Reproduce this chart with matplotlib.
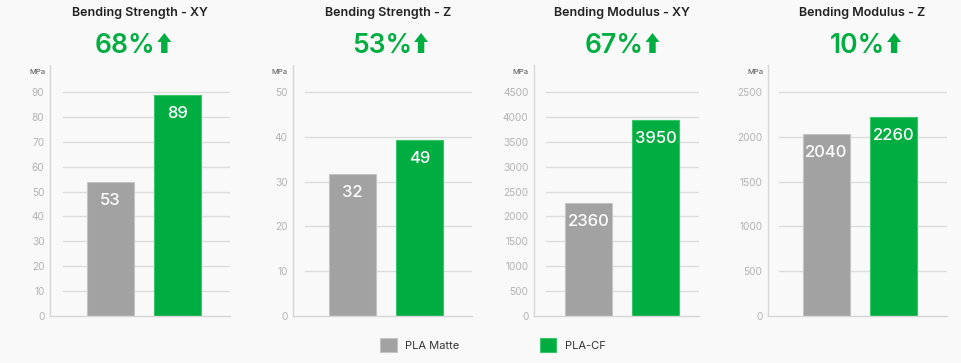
import matplotlib
matplotlib.use("Agg")
import matplotlib.pyplot as plt
from matplotlib.patches import Patch, Polygon
import numpy as np

plt.rcParams['font.family'] = ['Inter', 'DejaVu Sans']

# ---- data ----
titles = ["Bending Strength - XY", "Bending Strength - Z", "Bending Modulus - XY", "Bending Modulus - Z"]
increase = ["68%", "53%", "67%", "10%"]
series = ["PLA Matte", "PLA-CF"]
heights_xy_strength = [53.8, 88.8]
heights_z_strength = [31.7, 39.2]
heights_xy_modulus = [2263, 3930]
heights_z_modulus = [2028, 2224]
labels_xy_strength = ["53", "89"]
labels_z_strength = ["32", "49"]
labels_xy_modulus = ["2360", "3950"]
labels_z_modulus = ["2040", "2260"]
y_max = [90, 50, 4500, 2500]
y_step = [10, 10, 500, 500]
unit = "MPa"

heights = [heights_xy_strength, heights_z_strength, heights_xy_modulus, heights_z_modulus]
labels = [labels_xy_strength, labels_z_strength, labels_xy_modulus, labels_z_modulus]

# ---- style / layout ----
W, H = 962, 363
BG = '#f9f9f9'
GRAY = '#a2a2a2'
GREEN = '#00ad41'
colors = [GRAY, GREEN]
edges = ['#c4c4c4', '#3cc46a']
axis_x = [50, 293, 534, 768]
grid_start = [63, 305, 546, 779]
grid_end = [230, 472, 699, 947]
bar_left = [87, 329, 565, 803]
title_cx = [139.5, 388, 622, 862.5]
pct_cx = [133, 390, 622, 865.5]
bar_w_px = 47
spacing_px = 67
y0_px, ytop_px, yfree_px = 316, 92, 65

fig = plt.figure(figsize=(W / 100, H / 100), dpi=100, facecolor=BG)
renderer = fig.canvas.get_renderer()

for i in range(4):
    ax_h = y0_px - yfree_px
    ax = fig.add_axes([axis_x[i] / W, (H - y0_px) / H, (grid_end[i] - axis_x[i]) / W, ax_h / H])
    ax.set_facecolor('none')
    c0 = bar_left[i] + bar_w_px / 2
    ax.set_xlim((axis_x[i] - c0) / spacing_px, (grid_end[i] - c0) / spacing_px)
    top = y_max[i] * ax_h / (y0_px - ytop_px)
    ax.set_ylim(0, top)
    ticks = np.arange(0, y_max[i] + y_step[i] / 2, y_step[i])
    frac = (grid_start[i] - axis_x[i]) / (grid_end[i] - axis_x[i])
    for t in ticks[1:]:
        ax.axhline(t, xmin=frac, xmax=1, color='#dddddd', lw=1, zorder=0)
    xs = np.arange(len(heights[i]))
    ax.bar(xs, heights[i], width=bar_w_px / spacing_px, color=colors,
           edgecolor=edges, linewidth=0.8, zorder=2)
    for x, h, lab in zip(xs, heights[i], labels[i]):
        ax.annotate(lab, xy=(x, h), xytext=(0, -11), textcoords='offset pixels',
                    ha='center', va='top', color='white', fontsize=12, fontweight='medium', zorder=3)
    ax.set_yticks(ticks)
    ax.set_yticklabels([f"{int(t)}" for t in ticks])
    ax.set_xticks([])
    ax.tick_params(axis='y', length=0, pad=4, labelsize=7.3, labelcolor='#b3b3b3')
    for s in ['top', 'right']:
        ax.spines[s].set_visible(False)
    for s in ['left', 'bottom']:
        ax.spines[s].set_color('#d6d6d6')
        ax.spines[s].set_linewidth(1)
    ax.annotate(unit, xy=(0, 1), xycoords='axes fraction', xytext=(-5, -7),
                textcoords='offset pixels', ha='right', va='center', fontsize=5.5, color='#555555')
    fig.text(title_cx[i] / W, 1 - 13 / H, titles[i], ha='center', va='center', fontsize=9,
             fontweight='semibold', color='#222222')
    # percentage text + up arrow
    arrow_w, arrow_h, gap = 14, 20, 2
    t = fig.text(0, 0, increase[i], fontsize=19, fontweight='semibold', color=GREEN,
                 ha='left', va='baseline')
    bb = t.get_window_extent(renderer)
    tw = bb.width
    total = tw + gap + arrow_w
    left = pct_cx[i] - total / 2
    base_y = H - 53
    t.set_position((left / W, base_y / H))
    ax0 = left + tw + gap
    ax1 = ax0 + arrow_w
    amid = (ax0 + ax1) / 2
    head_base = base_y + arrow_h - 9
    stem = 3.2
    pts = [(amid - stem, base_y), (amid + stem, base_y), (amid + stem, head_base),
           (ax1, head_base), (amid, base_y + arrow_h), (ax0, head_base), (amid - stem, head_base)]
    fig.patches.append(Polygon([(px / W, py / H) for px, py in pts], closed=True,
                               transform=fig.transFigure, facecolor=GREEN, edgecolor='none'))

handles = [Patch(facecolor=c, edgecolor=e, linewidth=0.8) for c, e in zip(colors, edges)]
fig.legend(handles, series, loc='center', bbox_to_anchor=(493 / W, 1 - 345 / H), ncol=2,
           frameon=False, fontsize=8, handlelength=1.45, handleheight=1.45,
           handletextpad=0.8, columnspacing=7.2, labelcolor='#333333')

fig.savefig('out.png', dpi=100, facecolor=BG)
